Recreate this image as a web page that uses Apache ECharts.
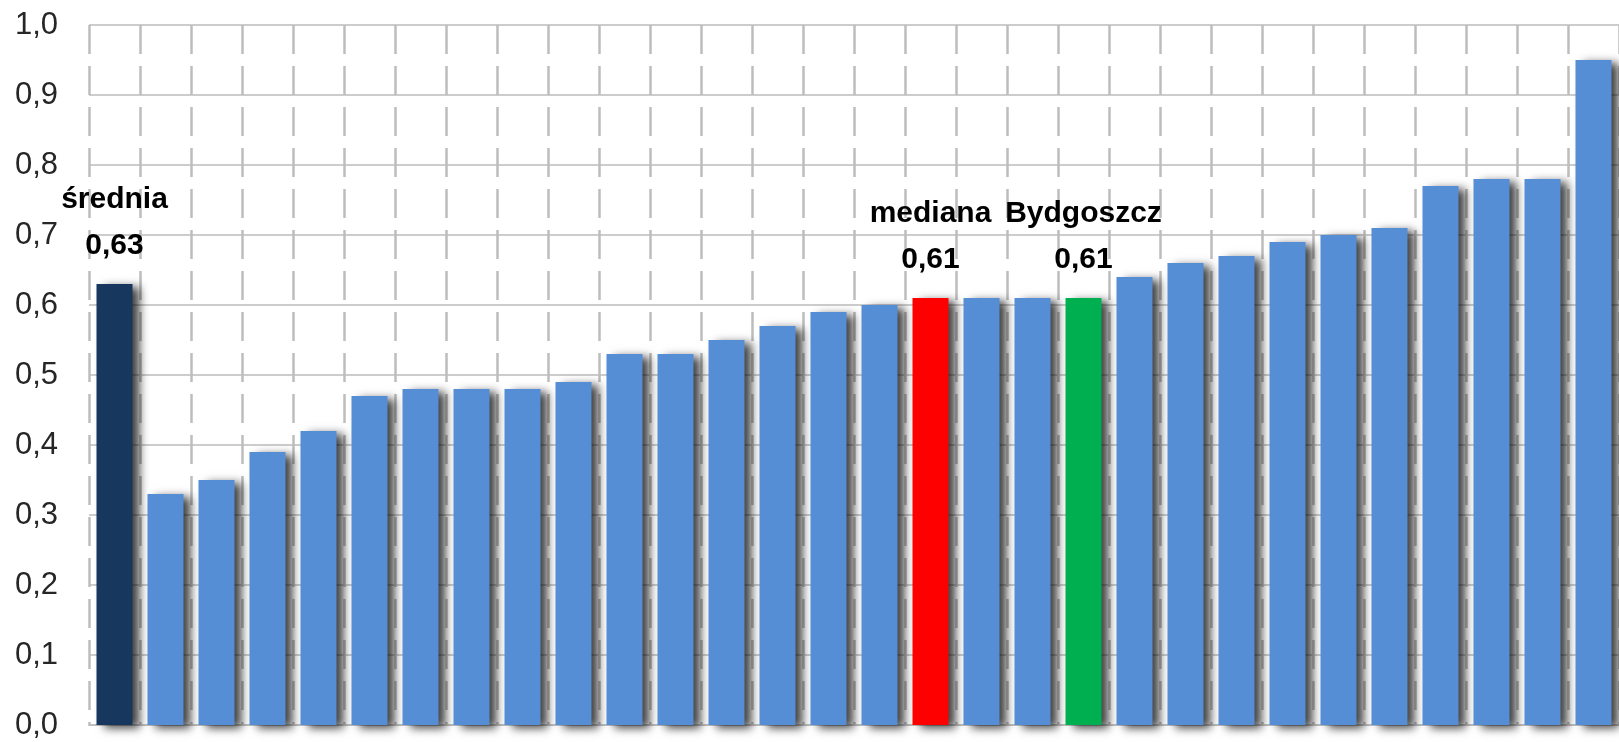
<!DOCTYPE html>
<html>
<head>
    <meta charset="UTF-8">
    <title>średnia / mediana / Bydgoszcz</title>
    <script src="https://cdn.jsdelivr.net/npm/echarts/dist/echarts.min.js"></script>
    <style>
        html, body { margin: 0; padding: 0; background: #fff; }
    </style>
</head>
<body>
<div id="chart" style="width: 1619px; height: 742px;"></div>

<script>
    // categories (only the labelled ones have known names)
    const categories = ['średnia', 'p2', 'p3', 'p4', 'p5', 'p6', 'p7', 'p8', 'p9', 'p10',
        'p11', 'p12', 'p13', 'p14', 'p15', 'p16', 'mediana', 'p18', 'p19', 'Bydgoszcz',
        'p21', 'p22', 'p23', 'p24', 'p25', 'p26', 'p27', 'p28', 'p29', 'p30'];
    const values = [0.63, 0.33, 0.35, 0.39, 0.42, 0.47, 0.48, 0.48, 0.48, 0.49,
        0.53, 0.53, 0.55, 0.57, 0.59, 0.60, 0.61, 0.61, 0.61, 0.61,
        0.64, 0.66, 0.67, 0.69, 0.70, 0.71, 0.77, 0.78, 0.78, 0.95];
    const labelled = ['średnia', 'mediana', 'Bydgoszcz'];
    const yTicks = [0, 0.1, 0.2, 0.3, 0.4, 0.5, 0.6, 0.7, 0.8, 0.9, 1.0];

    const colorFor = {
        'średnia': '#17375E',
        'mediana': '#FF0000',
        'Bydgoszcz': '#00B050'
    };

    const comma = (v, d) => v.toFixed(d).replace('.', ',');

    const chart = echarts.init(document.getElementById('chart'));
    const option = {
        animation: false,
        grid: {
            left: 89,
            right: 0,
            top: 25,
            bottom: 17,
            containLabel: false
        },
        xAxis: {
            type: 'category',
            data: categories,
            axisLabel: { show: false },
            axisTick: { show: false },
            axisLine: { lineStyle: { color: '#bfbfbf', width: 2 } },
            splitLine: {
                show: true,
                interval: 0,
                lineStyle: { color: '#bdbdbd', width: 2.5, type: [29, 12] }
            }
        },
        yAxis: {
            type: 'value',
            min: yTicks[0],
            max: yTicks[yTicks.length - 1],
            interval: 0.1,
            axisLine: { show: false },
            axisTick: { show: false },
            axisLabel: {
                margin: 31,
                fontFamily: 'Liberation Sans',
                fontSize: 31,
                color: '#262626',
                formatter: v => comma(v, 1)
            },
            splitLine: { lineStyle: { color: '#cccccc', width: 2 } }
        },
        series: [{
            type: 'bar',
            barWidth: 36,
            data: values.map((v, i) => ({
                value: v,
                label: { show: labelled.includes(categories[i]) }
            })),
            itemStyle: {
                color: p => colorFor[p.name] || '#558ED5',
                shadowColor: 'rgba(0,0,0,0.75)',
                shadowBlur: 9,
                shadowOffsetX: 7,
                shadowOffsetY: 3
            },
            label: {
                position: 'top',
                distance: 15,
                formatter: p => '{a|' + p.name + '}\n{a|' + comma(p.value, 2) + '}',
                rich: {
                    a: {
                        fontFamily: 'Liberation Sans',
                        fontWeight: 'bold',
                        fontSize: 30,
                        lineHeight: 46,
                        color: '#000'
                    }
                }
            }
        }]
    };

    chart.setOption(option);
</script>
</body>
</html>
